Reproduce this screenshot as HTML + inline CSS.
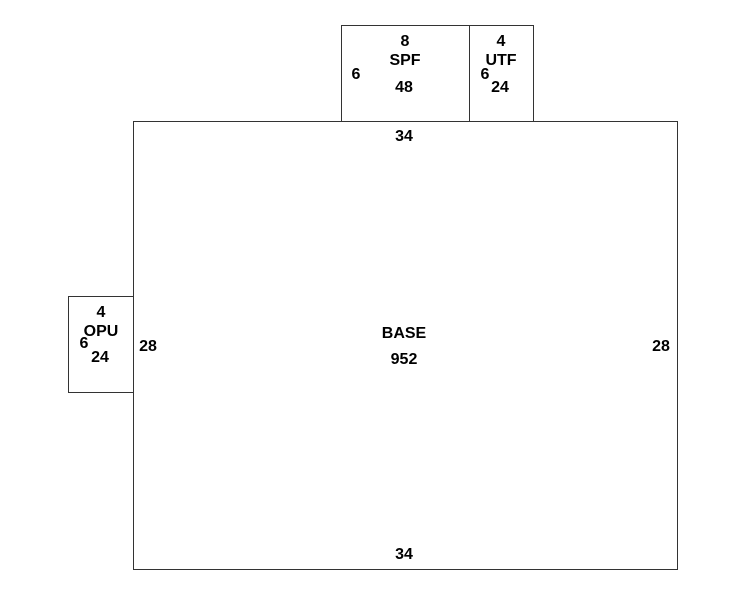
<!DOCTYPE html>
<html><head><meta charset="utf-8"><style>
html,body{margin:0;padding:0;background:#fff;}
svg{display:block;}
text{font-family:"Liberation Sans",Arial,sans-serif;font-weight:bold;font-size:16px;fill:#000;text-anchor:middle;}
</style></head><body>
<svg width="746" height="595" viewBox="0 0 746 595" xmlns="http://www.w3.org/2000/svg">
<g fill="none" stroke="#333" stroke-width="1">
<rect x="341.5" y="25.5" width="128" height="96"/>
<rect x="469.5" y="25.5" width="64" height="96"/>
<rect x="133.5" y="121.5" width="544" height="448"/>
<rect x="68.5" y="296.5" width="65" height="96"/>
</g>
<text x="405" y="46">8</text>
<text x="405" y="65">SPF</text>
<text x="356" y="79">6</text>
<text x="404" y="92">48</text>
<text x="501" y="46">4</text>
<text x="501" y="65">UTF</text>
<text x="485" y="79">6</text>
<text x="500" y="92">24</text>
<text x="404" y="141">34</text>
<text x="404" y="338">BASE</text>
<text x="404" y="364">952</text>
<text x="148" y="351">28</text>
<text x="661" y="351">28</text>
<text x="404" y="559">34</text>
<text x="101" y="317">4</text>
<text x="101" y="336">OPU</text>
<text x="84" y="348">6</text>
<text x="100" y="362">24</text>
</svg>
</body></html>
